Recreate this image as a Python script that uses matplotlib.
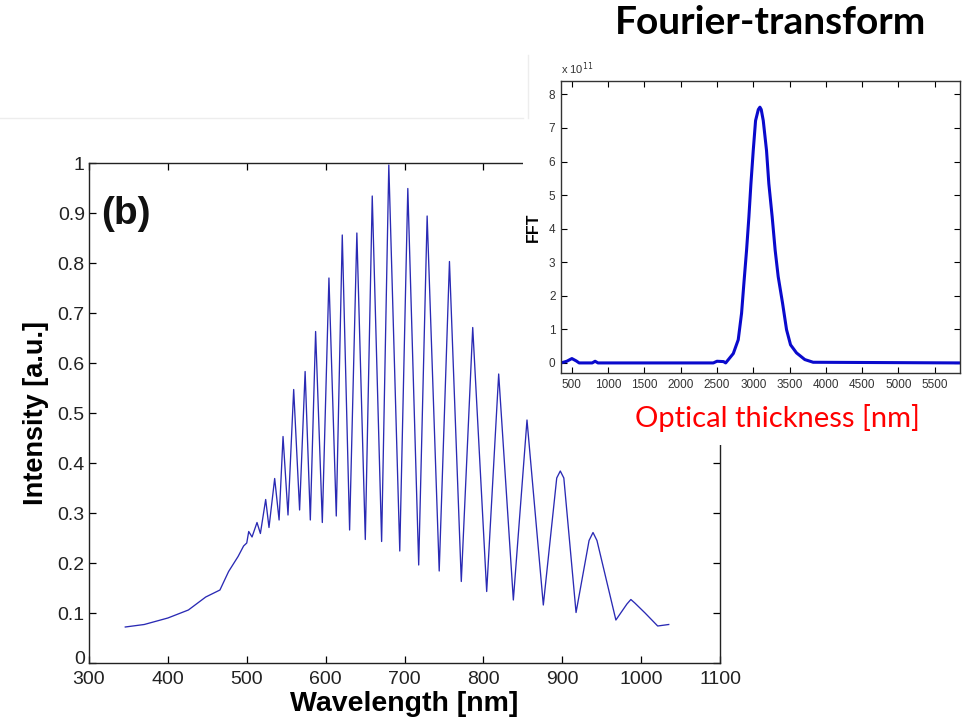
"""Interference spectrum of a thin film (b) with its Fourier transform inset."""

import matplotlib
matplotlib.use("Agg")
import matplotlib.pyplot as plt
from matplotlib.lines import Line2D
from matplotlib.patches import Polygon
from matplotlib.transforms import ScaledTranslation

# main spectrum: vertices (wavelength nm, intensity a.u.)
wavelength = [
    346, 370, 400, 426, 448, 466, 477, 489, 496, 500,
    502.5, 506.7, 513, 517.3, 524, 528.2, 535.4, 541, 546, 552.3,
    559.5, 567, 574, 580.6, 587.3, 595.8, 604.2, 613.5, 621.1, 630.4,
    639.6, 650.3, 659.1, 671, 680.1, 694, 704.2, 718, 728.7, 744,
    757, 772, 786.5, 804.2, 819.4, 838, 855.3, 876, 893, 897.5,
    902, 917.5, 934, 939, 944, 968, 982, 987, 992, 1005,
    1021, 1035,
]
intensity = [
    0.072, 0.077, 0.090, 0.106, 0.132, 0.146, 0.183, 0.213, 0.234, 0.240,
    0.263, 0.252, 0.281, 0.259, 0.327, 0.271, 0.369, 0.286, 0.453, 0.296,
    0.547, 0.306, 0.583, 0.286, 0.663, 0.281, 0.770, 0.294, 0.856, 0.266,
    0.860, 0.247, 0.934, 0.243, 0.996, 0.224, 0.949, 0.196, 0.894, 0.184,
    0.803, 0.163, 0.671, 0.143, 0.578, 0.126, 0.486, 0.116, 0.370, 0.384,
    0.370, 0.101, 0.245, 0.261, 0.245, 0.086, 0.118, 0.127, 0.120, 0.100,
    0.074, 0.077,
]

# inset: FFT magnitude (units of 1e11) versus optical thickness (nm)
thickness = [
    350, 430, 500, 560, 600, 780, 820, 860, 2450, 2500,
    2590, 2620, 2725, 2793, 2839, 2871, 2908, 2940, 2968, 3000,
    3032, 3070, 3092, 3110, 3138, 3183, 3215, 3261, 3302, 3344,
    3404, 3459, 3514, 3596, 3711, 3826, 5850,
]
fft_amp = [
    0.00, 0.05, 0.13, 0.06, 0.00, 0.00, 0.05, 0.00, 0.00, 0.05,
    0.04, 0.00, 0.28, 0.69, 1.48, 2.37, 3.36, 4.35, 5.34, 6.33,
    7.22, 7.55, 7.62, 7.55, 7.22, 6.33, 5.34, 4.35, 3.36, 2.57,
    1.78, 0.99, 0.54, 0.30, 0.10, 0.02, 0.00,
]

main_xticks = [300, 400, 500, 600, 700, 800, 900, 1000, 1100]
main_yticks = [0, 0.1, 0.2, 0.3, 0.4, 0.5, 0.6, 0.7, 0.8, 0.9, 1.0]
main_ylabels = ["0", "0.1", "0.2", "0.3", "0.4", "0.5", "0.6", "0.7", "0.8", "0.9", "1"]
inset_xticks = [500, 1000, 1500, 2000, 2500, 3000, 3500, 4000, 4500, 5000, 5500]
inset_yticks = [0, 1, 2, 3, 4, 5, 6, 7, 8]

W, H = 969, 724
fig = plt.figure(figsize=(W / 100, H / 100), dpi=100)
fig.patch.set_facecolor("white")


def fx(px):
    return px / W


def fy(py):
    return 1 - py / H


# ---- main axes ----
ax = fig.add_axes([fx(89), fy(663), fx(720) - fx(89), fy(163) - fy(663)])
ax.plot(wavelength, intensity, color="#2a2ab4", lw=0.95)
ax.set_xlim(300, 1100)
ax.set_ylim(0, 1)
ax.set_xticks(main_xticks)
ax.set_xticklabels([str(t) for t in main_xticks])
ax.set_yticks(main_yticks)
ax.set_yticklabels(main_ylabels)
ax.tick_params(direction="in", length=5, width=0.9, top=True, right=True,
               labelsize=14, labelcolor="#222222")
ax.tick_params(axis="x", pad=6)
ax.tick_params(axis="y", pad=3)
for lab in ax.get_xticklabels() + ax.get_yticklabels():
    lab.set_family("Liberation Sans")
# the "0" of the y axis sits a little above its tick, clear of "300"
zero_lab = ax.get_yticklabels()[0]
zero_lab.set_transform(zero_lab.get_transform()
                       + ScaledTranslation(0, 4 / 72, fig.dpi_scale_trans))
for sp in ax.spines.values():
    sp.set_linewidth(1.0)
    sp.set_color("#222222")
ax.set_xlabel("Wavelength [nm]", family="Liberation Sans", fontweight="bold",
              fontsize=20.5, labelpad=2)
ax.set_ylabel("Intensity [a.u.]", family="Liberation Sans", fontweight="bold",
              fontsize=19.5, labelpad=6)
ax.text(316, 0.897, "(b)", family="Liberation Sans", fontweight="bold",
        fontsize=28, va="center", ha="left", color="#111111")

# white area of the pasted inset picture, covering part of the main axes
cover = Polygon(
    [(fx(523), fy(0)), (fx(523), fy(400)), (fx(537), fy(400)), (fx(537), fy(445)),
     (fx(969), fy(445)), (fx(969), fy(0))],
    closed=True, transform=fig.transFigure, facecolor="white", edgecolor="none",
    zorder=5)
fig.patches.append(cover)

# faint edges of the pasted pictures
fig.add_artist(Line2D([fx(0), fx(523)], [fy(118), fy(118)], color="#ededed",
                      lw=1.0, zorder=6))
fig.add_artist(Line2D([fx(528), fx(528)], [fy(55), fy(118)], color="#ededed",
                      lw=1.0, zorder=6))

# ---- inset axes ----
ins = fig.add_axes([fx(561), fy(373), fx(960) - fx(561), fy(81) - fy(373)], zorder=10)
ins.plot(thickness, fft_amp, color="#0a0acc", lw=2.2)
ins.set_xlim(350, 5850)
ins.set_ylim(-0.3, 8.4)
ins.set_xticks(inset_xticks)
ins.set_xticklabels([str(t) for t in inset_xticks])
ins.set_yticks(inset_yticks)
ins.set_yticklabels([str(t) for t in inset_yticks])
ins.tick_params(direction="in", length=4, width=0.8, top=True, right=True,
                labelsize=8.5, labelcolor="#333333", pad=4)
for lab in ins.get_xticklabels() + ins.get_yticklabels():
    lab.set_family("Liberation Sans")
for sp in ins.spines.values():
    sp.set_linewidth(1.0)
    sp.set_color("#333333")
ins.set_ylabel("FFT", family="Liberation Sans", fontweight="bold", fontsize=11.5,
               labelpad=6)
ins.text(0.0, 1.015, r"x 10$^{11}$", transform=ins.transAxes, fontsize=8,
         family="Liberation Sans", color="#333333", ha="left", va="bottom")

fig.text(fx(770), fy(22), "Fourier-transform", family="Lato", fontweight="bold",
         fontsize=28, ha="center", va="center", color="black", zorder=12)
fig.text(fx(777), fy(418), "Optical thickness [nm]", family="Lato",
         fontsize=21, ha="center", va="center", color="#ff0000", zorder=12)

fig.savefig("out.png", dpi=100, facecolor="white")
